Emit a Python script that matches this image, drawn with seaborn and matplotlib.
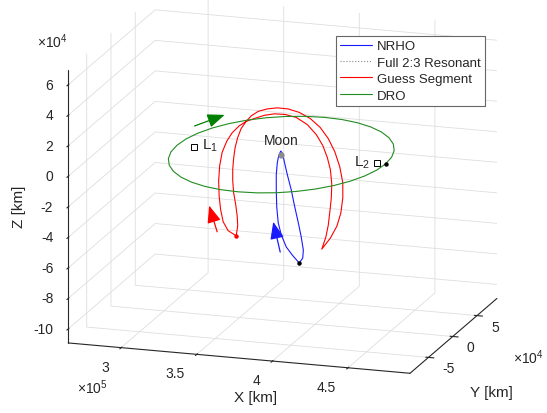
import numpy as np
import matplotlib
matplotlib.use("Agg")
import matplotlib.pyplot as plt
import matplotlib.transforms as mtransforms
import seaborn as sns
from matplotlib.patches import FancyArrowPatch
from matplotlib.lines import Line2D
from mpl_toolkits.mplot3d import proj3d

sns.set_style("white")
plt.rcParams['font.family'] = ['Liberation Sans', 'DejaVu Sans']
plt.rcParams['mathtext.fontset'] = 'custom'
plt.rcParams['mathtext.rm'] = 'Liberation Sans'
plt.rcParams['mathtext.default'] = 'regular'

# ---------------- data (units: 1000 km) ----------------
moon = (377.6, 0.0, 0.0)
L1 = (319.8, 0.0, 0.0)
L2 = (440.7, 0.0, 0.0)

nrho_x = [389.5, 384.9, 380.9, 377.6, 375.6, 374.6, 374.3, 374.3, 375.0, 375.9, 377.3,
          378.6, 379.6, 381.6, 384.2, 386.5, 388.9, 390.8, 392.2, 391.8, 389.5]
nrho_y = [0.0] * len(nrho_x)
nrho_z = [-70.0, -65.2, -60.2, -52.6, -44.9, -34.5, -23.3, -13.4, -5.5, -0.8, 2.3,
          0.7, -4.4, -12.8, -22.5, -33.4, -43.8, -52.8, -61.3, -66.5, -70.0]

guess_x = [347.8, 348.8, 348.5, 347.5, 346.1, 345.5, 345.5, 346.1, 347.1, 348.8, 351.1, 354.4,
           357.7, 362.4, 368.3, 375.0, 382.2, 389.5, 396.8, 403.4, 408.7, 413.0, 416.3, 418.3,
           418.3, 417.0, 414.4, 410.1, 404.4,
           407.1, 408.7, 409.7, 410.7, 411.0, 410.1, 408.1, 405.1, 400.8, 394.8, 387.5, 380.2,
           373.0, 366.3, 360.1, 354.4,
           349.8, 345.1, 341.5, 338.5, 336.9, 336.2, 336.5, 337.5, 339.2, 342.5, 347.8]
guess_y = [0.0] * len(guess_x)
guess_z = [-55.8, -49.2, -43.3, -35.5, -27.7, -19.8, -12.6, -5.3, 2.0, 8.7, 14.8, 19.7,
           23.6, 27.0, 29.1, 30.4, 30.3, 28.7, 25.3, 20.0, 13.2, 5.0, -4.6, -14.9,
           -24.8, -34.8, -43.6, -51.8, -59.6,
           -51.4, -43.4, -34.8, -25.5, -16.2, -7.1, 0.6, 8.3, 15.1, 21.2, 25.2, 26.5,
           26.3, 24.7, 22.2, 19.7,
           16.4, 11.4, 5.5, -2.0, -10.7, -20.6, -30.5, -39.6, -47.4, -53.0, -55.8]

dro_x = [446.6, 445.6, 442.5, 437.4, 430.5, 422.0, 412.1, 401.2, 389.6, 377.6, 365.6, 354.0,
         343.1, 333.2, 324.7, 317.8, 312.7, 309.6, 308.6, 309.6, 312.7, 317.8, 324.7, 333.2,
         343.1, 354.0, 365.6, 377.6, 389.6, 401.2, 412.1, 422.0, 430.5, 437.4, 442.5, 445.6, 446.6]
dro_y = [0.0, 15.5, 30.4, 44.5, 57.2, 68.2, 77.1, 83.7, 87.7, 89.0, 87.7, 83.7,
         77.1, 68.2, 57.2, 44.5, 30.4, 15.5, 0.0, -15.5, -30.4, -44.5, -57.2, -68.2,
         -77.1, -83.7, -87.7, -89.0, -87.7, -83.7, -77.1, -68.2, -57.2, -44.5, -30.4, -15.5, 0.0]
dro_z = [0.0] * len(dro_x)

nrho_dot = (389.5, 0.0, -70.0)
guess_dot = (347.8, 0.0, -55.8)
dro_dot = (446.6, 0.0, 0.0)

# direction arrows: (start, end)
arrow_dro = ((305.7, 45.4, 0.0), (316.0, 75.2, 0.0))
arrow_guess = ((335.2, 0.0, -54.3), (329.9, 0.0, -37.6))
arrow_nrho = ((376.9, 0.0, -63.9), (372.3, 0.0, -44.5))

x_ticks = [300, 350, 400, 450]
x_ticklabels = ['3', '3.5', '4', '4.5']
y_ticks = [-50, 0, 50]
y_ticklabels = ['-5', '0', '5']
z_ticks = [-100, -80, -60, -40, -20, 0, 20, 40, 60]
z_ticklabels = ['-10', '-8', '-6', '-4', '-2', '0', '2', '4', '6']

x_lim = (265, 491)
y_lim = (-88, 91)
z_lim = (-109.2, 69.9)

S = 1000.0  # to km

C_AX = (0.15, 0.15, 0.15)
C_BLUE = (0.1, 0.1, 1.0)
C_RED = (1, 0, 0)
C_GREEN = (0.13, 0.55, 0.13)
C_GREEN_DARK = (0.0, 0.5, 0.0)


class Arrow3D(FancyArrowPatch):
    def __init__(self, p0, p1, **kw):
        super().__init__((0, 0), (0, 0), **kw)
        self._verts3d = ([p0[0], p1[0]], [p0[1], p1[1]], [p0[2], p1[2]])

    def do_3d_projection(self, renderer=None):
        xs3d, ys3d, zs3d = self._verts3d
        xs, ys, zs = proj3d.proj_transform(xs3d, ys3d, zs3d, self.axes.M)
        self.set_positions((xs[0], ys[0]), (xs[1], ys[1]))
        return np.min(zs)


fig = plt.figure(figsize=(5.47, 4.14), dpi=100)
ax = fig.add_axes([0.0264, 0.0396, 0.96, 1.0], projection='3d')
ax.set_proj_type('ortho')
ax.view_init(elev=16.05, azim=-72.2)

def km(a):
    return np.asarray(a, dtype=float) * S

ax.plot(km(nrho_x), km(nrho_y), km(nrho_z), color=C_BLUE, lw=0.8)
ax.plot(km(guess_x), km(guess_y), km(guess_z), color=C_RED, lw=0.8)
ax.plot(km(dro_x), km(dro_y), km(dro_z), color=C_GREEN, lw=0.8)

ax.plot(*[[v * S] for v in moon], marker='o', ms=3.5, color=(0.55, 0.55, 0.55), ls='none')
for p in (L1, L2):
    ax.plot(*[[v * S] for v in p], marker='s', ms=5, mfc='none', mec='k', mew=0.7, ls='none')
ax.plot(*[[v * S] for v in nrho_dot], marker='o', ms=2.2, color='k', ls='none')
ax.plot(*[[v * S] for v in dro_dot], marker='o', ms=2.2, color='k', ls='none')
ax.plot(*[[v * S] for v in guess_dot], marker='o', ms=2.2, color=C_RED, ls='none')

for (p0, p1), col in ((arrow_dro, C_GREEN_DARK), (arrow_guess, C_RED), (arrow_nrho, C_BLUE)):
    a = Arrow3D([v * S for v in p0], [v * S for v in p1],
                arrowstyle='-|>,head_length=0.75,head_width=0.3', mutation_scale=14,
                color=col, lw=0.9, shrinkA=0, shrinkB=0)
    ax.add_artist(a)

ax.text(moon[0] * S, 0, 9.5e3, 'Moon', ha='center', va='center', fontsize=10)
ax.text((L1[0] + 5.5) * S, 0, 2.0e3, 'L$_1$', ha='left', va='center', fontsize=11)
ax.text((L2[0] - 4.5) * S, 0, 0.5e3, 'L$_2$', ha='right', va='center', fontsize=11)

ax.set_xlim(x_lim[0] * S, x_lim[1] * S)
ax.set_ylim(y_lim[0] * S, y_lim[1] * S)
ax.set_zlim(z_lim[0] * S, z_lim[1] * S)
ax.set_box_aspect((x_lim[1] - x_lim[0], y_lim[1] - y_lim[0], z_lim[1] - z_lim[0]), zoom=1.264)

ax.set_xticks([t * S for t in x_ticks])
ax.set_xticklabels(x_ticklabels)
ax.set_yticks([t * S for t in y_ticks])
ax.set_yticklabels(y_ticklabels)
ax.set_zticks([t * S for t in z_ticks])
ax.set_zticklabels(z_ticklabels)
ax.zaxis.set_ticks_position('lower')
ax.zaxis.set_label_position('lower')

ax.tick_params(labelsize=10, colors=C_AX, pad=-8)


# place tick labels relative to the tick point on the axis (MATLAB-like).
# Axis3D resets tick transforms in get_major_ticks, so re-apply the offset there.
def shift_labels(axis, ha, dx_px, dy_px):
    off = mtransforms.ScaledTranslation(dx_px / 100.0, dy_px / 100.0, fig.dpi_scale_trans)
    orig = axis.get_major_ticks

    def get_major_ticks(numticks=None):
        ticks = orig(numticks)
        for t in ticks:
            t.label1.set_transform(ax.transData + off)
            t.label1.set_ha(ha)
            t.label1.set_va('center')
        return ticks

    axis.get_major_ticks = get_major_ticks


shift_labels(ax.xaxis, 'right', -12.5, -19)
shift_labels(ax.yaxis, 'left', 14, -11)
shift_labels(ax.zaxis, 'right', -15, 0)

for axis in (ax.xaxis, ax.yaxis, ax.zaxis):
    axis.set_pane_color((1, 1, 1, 0))
    axis.pane.set_edgecolor((1, 1, 1, 0))
    axis.line.set_color(C_AX)
    axis.line.set_linewidth(0.8)
    axis._axinfo['grid']['color'] = (0.87, 0.87, 0.87, 1)
    axis._axinfo['grid']['linewidth'] = 0.6

# axis titles as plain (unrotated) text like the reference
fig.text(256 / 547, 1 - 398 / 414, 'X [km]', ha='center', va='center', fontsize=11, color=C_AX)
fig.text(491 / 547, 1 - 393 / 414, 'Y [km]', ha='center', va='center', fontsize=11, color=C_AX)
fig.text(19 / 547, 1 - 207 / 414, 'Z [km]', ha='center', va='center', fontsize=11, color=C_AX,
         rotation=90)

handles = [Line2D([], [], color=C_BLUE, lw=0.8),
           Line2D([], [], color=(0.55, 0.55, 0.55), lw=0.8, ls=':'),
           Line2D([], [], color=C_RED, lw=0.8),
           Line2D([], [], color=C_GREEN, lw=0.8)]
labels = ['NRHO', 'Full 2:3 Resonant', 'Guess Segment', 'DRO']
leg = ax.legend(handles, labels, loc='upper left', bbox_to_anchor=(336 / 547, 1 - 37 / 414),
                bbox_transform=fig.transFigure, fancybox=False, framealpha=1,
                edgecolor=(0.4, 0.4, 0.4), fontsize=9.5, handlelength=2.4,
                handletextpad=0.4, labelspacing=0.32, borderpad=0.3, borderaxespad=0)
leg.get_frame().set_linewidth(0.8)

fig.text(52 / 547, 1 - 42 / 414, '×10$^{4}$', ha='center', va='center', fontsize=10, color=C_AX)
fig.text(92 / 547, 1 - 388 / 414, '×10$^{5}$', ha='center', va='center', fontsize=10, color=C_AX)
fig.text(528 / 547, 1 - 358 / 414, '×10$^{4}$', ha='center', va='center', fontsize=10, color=C_AX)

fig.savefig('out.png', dpi=100)
